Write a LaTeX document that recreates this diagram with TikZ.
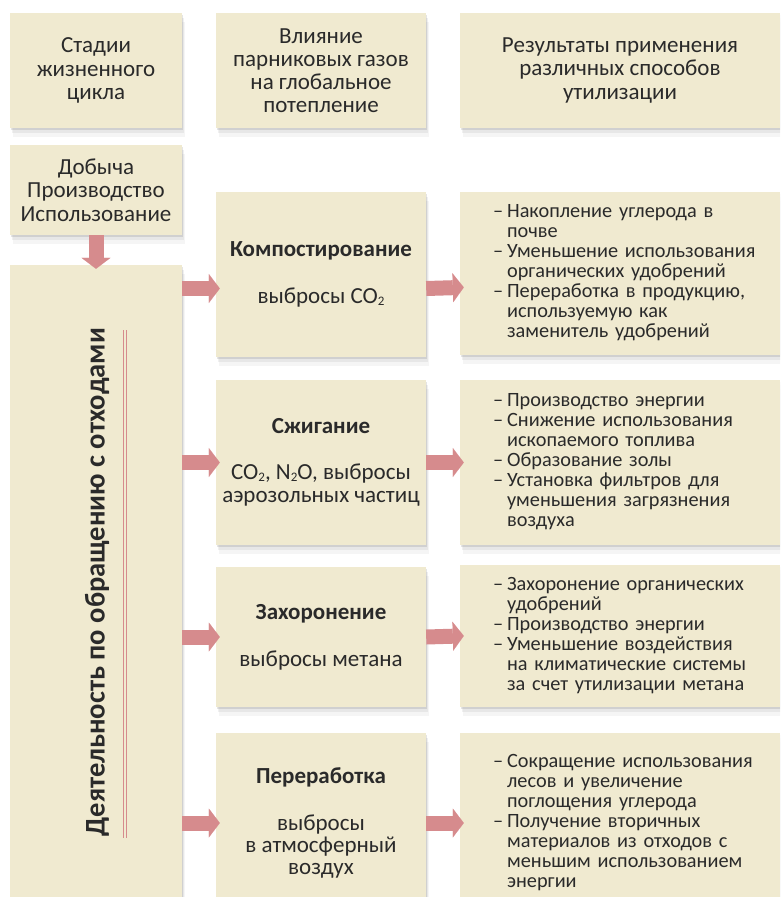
\documentclass[tikz,border=0pt]{standalone}
\usepackage{fontspec}
\setmainfont{Carlito}
\usetikzlibrary{arrows.meta,shadows}

\definecolor{boxfill}{HTML}{F0EAD0}
\definecolor{arrowred}{HTML}{D68B8D}
\definecolor{ink}{HTML}{2A2A2A}

% list of points with a hanging dash
\newcommand{\pts}[1]{\makebox[\linewidth][l]{\begin{tabular}{@{}l@{\hspace{4pt}}l@{}}#1\end{tabular}}}
% small lowered index
\newcommand{\idx}[1]{\raisebox{-0.2ex}{\fontsize{13}{13}\selectfont#1}}

\begin{document}
\begin{tikzpicture}[x=1pt,y=-1pt,
    box/.style={fill=boxfill, text=ink, inner sep=0pt,
      general shadow={fill=black, opacity=.10, shadow xshift=1pt, shadow yshift=-2pt},
      general shadow={fill=black, opacity=.06, shadow xshift=2pt, shadow yshift=-5pt},
      general shadow={fill=black, opacity=.04, shadow xshift=3pt, shadow yshift=-9pt}},
    colL/.style={box, minimum width=172pt, align=center, font=\fontsize{23}{23.3}\selectfont},
    colM/.style={box, minimum width=210pt, align=center, font=\fontsize{23}{22}\selectfont},
    colR/.style={box, text width=254pt, inner xsep=33pt, align=left, font=\fontsize{20.3}{20}\selectfont},
    flow/.style={color=arrowred, line width=15pt, shorten >=-4pt,
      -{Triangle[width=29pt,length=11pt,line width=0.1pt]}}]
    \useasboundingbox (0,0) rectangle (780,897);
    \clip (0,0) rectangle (780,897);

    % header row
    \node[colL, minimum height=115pt] (ST) at (96,70.5) {Стадии\\жизненного\\цикла};
    \node[colM, font=\fontsize{23}{23}\selectfont, minimum height=115pt] (VL) at (321,70.5)
        {Влияние\\парниковых газов\\на глобальное\\потепление};
    \node[box, minimum width=320pt, minimum height=115pt, align=center,
        font=\fontsize{23}{23.3}\selectfont] (RZ) at (620,70.5)
        {Результаты применения\\различных способов\\утилизации};

    % left column
    \node[colL, minimum height=90pt] (DP) at (96,190) {Добыча\\Производство\\Использование};
    \node[colL, minimum height=650pt] (DO) at (96,590) {};
    \node[rotate=90, text=ink, font=\bfseries\fontsize{28.5}{30}\selectfont] (LB) at (97,582)
        {Деятельность по обращению с отходами};
    \draw[draw=arrowred, line width=1pt, double=boxfill, double distance=1.6pt] (125,330) -- (125,838);

    % middle column
    \node[colM, minimum height=165pt] (KM) at (321,274.5)
        {\textbf{Компостирование}\\[25pt]выбросы CO\idx{2}};
    \node[colM, minimum height=165pt] (SZ) at (321,462.5)
        {\textbf{Сжигание}\\[24pt]CO\idx{2}, N\idx{2}O, выбросы\\[1.5pt]аэрозольных частиц};
    \node[colM, minimum height=140pt] (ZH) at (321,637)
        {\textbf{Захоронение}\\[25pt]выбросы метана};
    \node[colM, minimum height=180pt] (PR) at (321,823)
        {\textbf{Переработка}\\[25pt]выбросы\\в атмосферный\\воздух};

    % right column
    \node[colR, minimum height=163pt] (R1) at (620,273.5) {\pts{
        -- & Накопление углерода в\\
           & почве\\
        -- & Уменьшение использования\\
           & органических удобрений\\
        -- & Переработка в продукцию,\\
           & используемую как\\
           & заменитель удобрений}};
    \node[colR, minimum height=165pt] (R2) at (620,462.5) {\pts{
        -- & Производство энергии\\
        -- & Снижение использования\\
           & ископаемого топлива\\
        -- & Образование золы\\
        -- & Установка фильтров для\\
           & уменьшения загрязнения\\
           & воздуха}};
    \node[colR, minimum height=142pt] (R3) at (620,636) {\pts{
        -- & Захоронение органических\\
           & удобрений\\
        -- & Производство энергии\\
        -- & Уменьшение воздействия\\
           & на климатические системы\\
           & за счет утилизации метана}};
    \node[colR, minimum height=180pt] (R4) at (620,823) {\pts{
        -- & Сокращение использования\\
           & лесов и увеличение\\
           & поглощения углерода\\
        -- & Получение вторичных\\
           & материалов из отходов с\\
           & меньшим использованием\\
           & энергии}};

    \path[flow]
    (DP.south) edge (DO.north)
    ([yshift=-14pt]KM.west -| DO.east) edge ([yshift=-14pt]KM.west)
    (SZ.west -| DO.east) edge (SZ.west)
    (ZH.west -| DO.east) edge (ZH.west)
    (PR.west -| DO.east) edge (PR.west)
    ([yshift=-14pt]KM.east) edge ([yshift=-14pt]R1.west)
    (SZ.east) edge (R2.west)
    (ZH.east) edge (R3.west)
    (PR.east) edge (R4.west);
\end{tikzpicture}
\end{document}
